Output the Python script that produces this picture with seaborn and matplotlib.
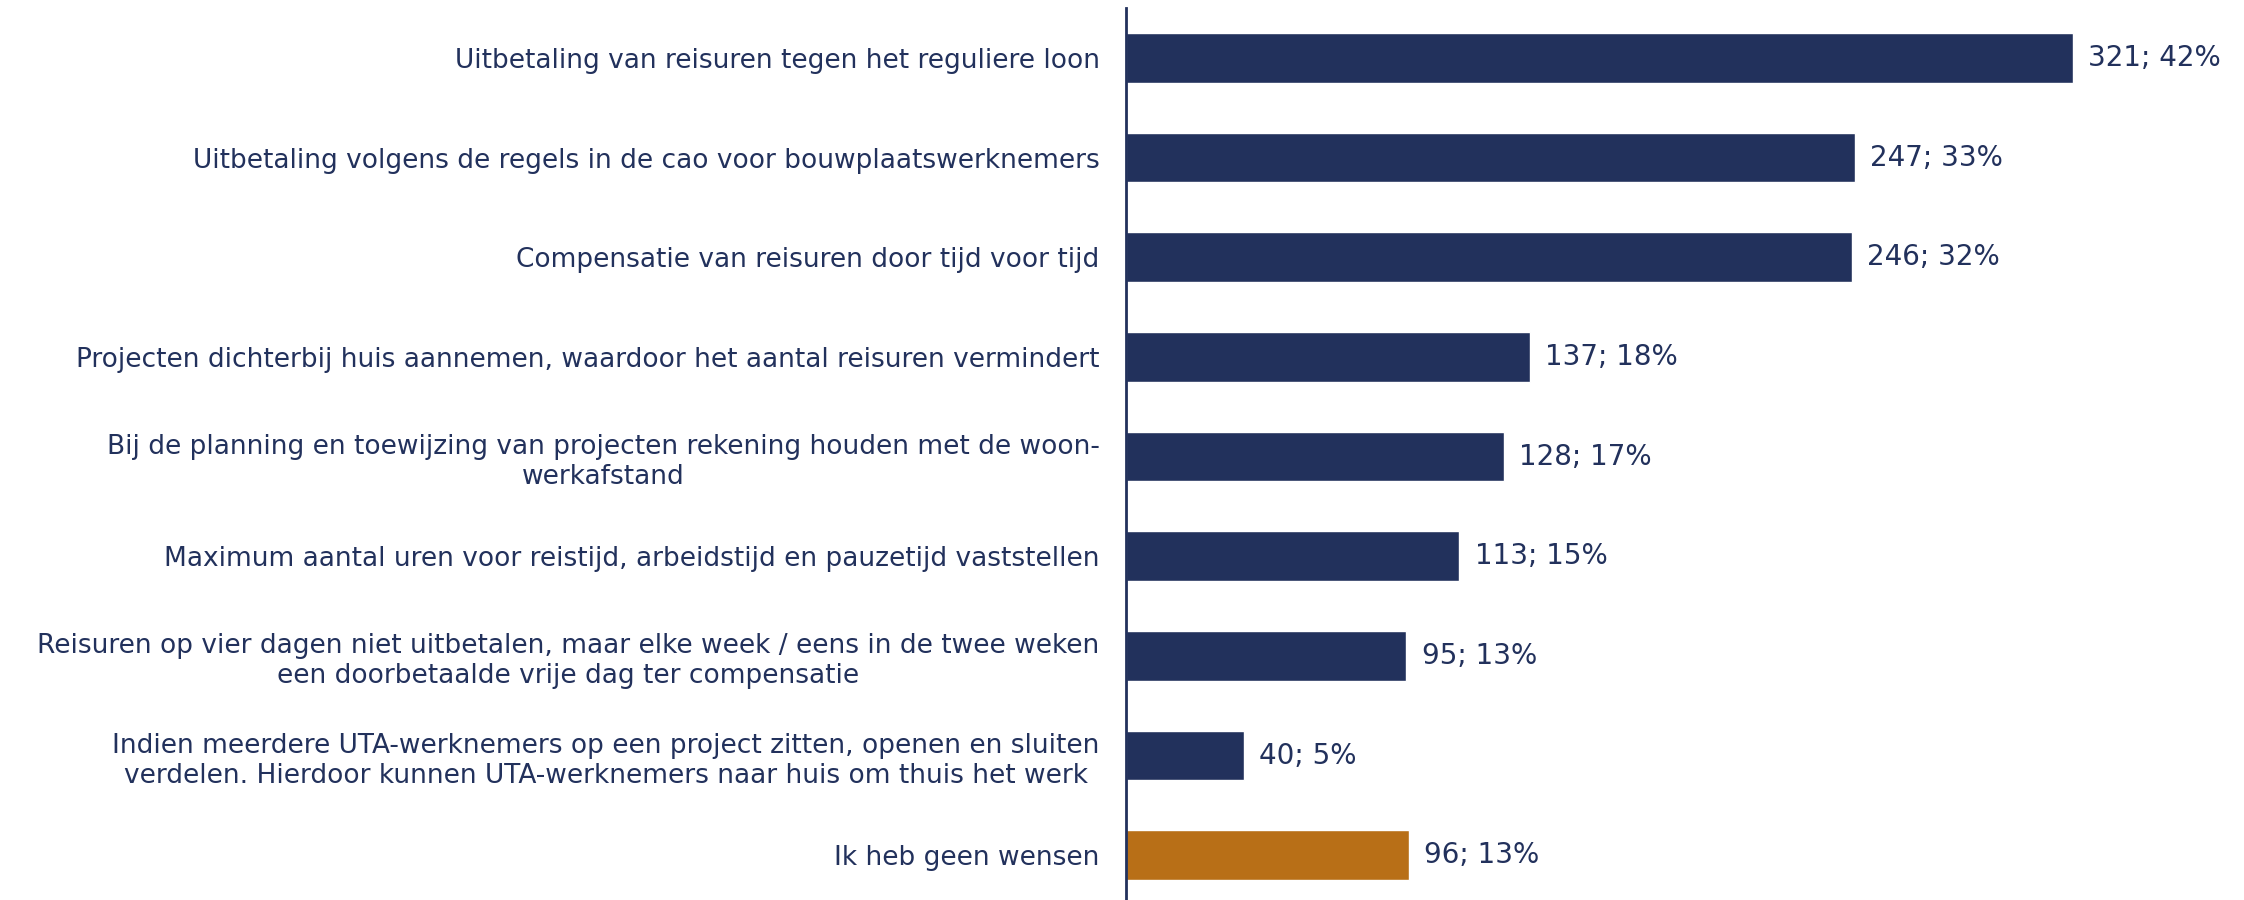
import pandas as pd
import matplotlib.pyplot as plt
import seaborn as sns

labels = [
    'Uitbetaling van reisuren tegen het reguliere loon',
    'Uitbetaling volgens de regels in de cao voor bouwplaatswerknemers',
    'Compensatie van reisuren door tijd voor tijd',
    'Projecten dichterbij huis aannemen, waardoor het aantal reisuren vermindert',
    'Bij de planning en toewijzing van projecten rekening houden met de woon-\nwerkafstand',
    'Maximum aantal uren voor reistijd, arbeidstijd en pauzetijd vaststellen',
    'Reisuren op vier dagen niet uitbetalen, maar elke week / eens in de twee weken\neen doorbetaalde vrije dag ter compensatie',
    'Indien meerdere UTA-werknemers op een project zitten, openen en sluiten\nverdelen. Hierdoor kunnen UTA-werknemers naar huis om thuis het werk',
    'Ik heb geen wensen',
]
counts = [321, 247, 246, 137, 128, 113, 95, 40, 96]
percents = [42, 33, 32, 18, 17, 15, 13, 5, 13]
groups = ['wens'] * 8 + ['geen']

navy = '#22315c'
orange = '#b86f17'

df = pd.DataFrame({'label': labels, 'count': counts, 'group': groups})

sns.set_style('white')
plt.rcParams['font.family'] = ['DejaVu Sans']

fig = plt.figure(figsize=(22.44, 9), dpi=100)
ax = fig.add_axes([0.5018, 0.0, 0.4982, 0.991])

sns.barplot(data=df, x='count', y='label', hue='group', orient='h',
            palette={'wens': navy, 'geen': orange}, width=0.5,
            dodge=False, legend=False, ax=ax, saturation=1)

# labels "aantal; percentage" next to the bars
for i, (c, p) in enumerate(zip(counts, percents)):
    ax.annotate(f'{c}; {p}%', xy=(c, i), xytext=(11, 0), textcoords='offset points',
                va='center', ha='left', fontsize=20, color=navy)

ax.set_xlim(0, 379)
ax.set_ylim(8.45, -0.5)
ax.set_xlabel('')
ax.set_ylabel('')
ax.set_xticks([])
ax.tick_params(axis='y', length=0, pad=19, labelsize=19, labelcolor=navy)
for t in ax.get_yticklabels():
    t.set_multialignment('center')
for s in ['top', 'right', 'bottom']:
    ax.spines[s].set_visible(False)
ax.spines['left'].set_color(navy)
ax.spines['left'].set_linewidth(2)

plt.savefig('out.png', dpi=100)
